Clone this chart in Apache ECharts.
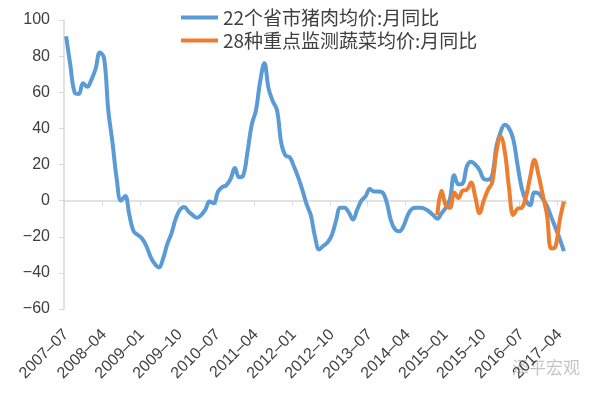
<!DOCTYPE html>
<html>
<head>
<meta charset="utf-8">
<script src="https://cdn.jsdelivr.net/npm/echarts@6/dist/echarts.min.js"></script>
<style>html,body{margin:0;padding:0;background:#fff}#c{width:600px;height:393px}</style>
</head>
<body>
<div id="c"></div>
<script>
// Months 2007-07 .. 2017-05
var months = [];
(function(){ for (var y = 2007, m = 7; !(y === 2017 && m === 6); ) { months.push(y + '-' + (m < 10 ? '0' + m : m)); m++; if (m > 12) { m = 1; y++; } } })();

var porkName = '22个省市猪肉均价:月同比';
var vegName = '28种重点监测蔬菜均价:月同比';

var pork = [
  91, 75, 60, 59, 65, 63, 67, 73, 82, 79,
  50, 32, 12, 0, 2.5, -8, -17, -19, -21, -25,
  -31, -35, -37, -32, -24, -18, -10, -5, -3.5, -6,
  -8, -9.5, -8, -5, -0.5, -1.5, 5, 7.5, 8.5, 12,
  18, 13, 14, 27, 42, 50, 66, 76, 62, 55,
  50, 32, 25, 24, 19, 13, 6, -2, -8, -20,
  -27, -25, -23, -19, -11, -4, -4, -6.5, -10.5, -5,
  0, 2.5, 6.5, 5, 5, 4.5, -1, -11, -16, -17,
  -14, -8, -4.5, -4, -4, -4.5, -6, -8, -10, -7,
  -4, 1, 14, 9, 9.5, 19, 21.5, 20, 17, 12,
  11.5, 14, 30, 38, 42, 40, 34, 20, 7, 0,
  -2.5, 4.5, 4, 1, -3, -9, -15, -21, -28
];

var vegStart = 88; // 2014-11
var vegValues = [
  -8, 5.5, -2.5, -4, 4.5, 1.5, 5.5, 6, 10, 2,
  -7, 0, 6, 10, 27, 35.5, 27, 7, -8, -4.5,
  -4, 2, 13, 22.5, 14, 3, -8, -26.5, -25.5, -11,
  -0.5
];
var veg = months.map(function(_, i){ return i < vegStart ? '-' : vegValues[i - vegStart]; });

var yMin = -60, yMax = 100, yStep = 20;

var txt = '#404040';
var chart = echarts.init(document.getElementById('c'));
chart.setOption({
  animation: false,
  backgroundColor: '#fff',
  grid: { left: 64, right: 34, top: 20, bottom: 84 },
  legend: {
    orient: 'vertical', left: 176, top: 3, itemGap: 4,
    itemWidth: 37, itemHeight: 4, icon: 'rect',
    textStyle: { fontSize: 19, color: txt, fontFamily: 'Noto Sans CJK SC' },
    data: [porkName, vegName]
  },
  xAxis: [{
    type: 'category', data: months, position: 'bottom', boundaryGap: true,
    axisLine: { show: false, onZero: false }, axisTick: { show: false },
    axisLabel: { interval: 8, rotate: 45, fontSize: 16, color: txt, fontFamily: 'Liberation Sans', margin: 23,
      formatter: function(v){ return v.replace('-', '\u2013'); } }
  }, {
    type: 'category', data: months, position: 'top', boundaryGap: true,
    axisLine: { show: true, onZero: true, lineStyle: { color: '#d9d9d9', width: 1.5 } },
    axisTick: { show: true, interval: 8, inside: true, length: 5, lineStyle: { color: '#d9d9d9' } },
    axisLabel: { show: false }
  }],
  yAxis: {
    type: 'value', min: yMin, max: yMax, interval: yStep,
    axisLine: { show: true, lineStyle: { color: '#d9d9d9', width: 1.5 } },
    axisTick: { show: true, length: 5, lineStyle: { color: '#d9d9d9' } },
    splitLine: { show: false },
    axisLabel: { fontSize: 16, color: txt, fontFamily: 'Liberation Sans', margin: 14,
      formatter: function(v){ return String(v).replace('-', '\u2212'); } }
  },
  series: [{
    name: porkName, type: 'line', data: pork, smooth: 0.4, symbol: 'none',
    lineStyle: { width: 4, color: '#5B9BD5' }, itemStyle: { color: '#5B9BD5' }
  }, {
    name: vegName, type: 'line', data: veg, smooth: 0.4, symbol: 'none',
    lineStyle: { width: 4, color: '#ED7D31' }, itemStyle: { color: '#ED7D31' }
  }],
  graphic: [{
    type: 'text', left: 512, top: 359,
    style: { text: '泽平宏观', fontSize: 17, fill: 'rgba(150,150,150,0.55)', fontFamily: 'Noto Sans CJK SC' }
  }]
});
</script>
</body>
</html>
